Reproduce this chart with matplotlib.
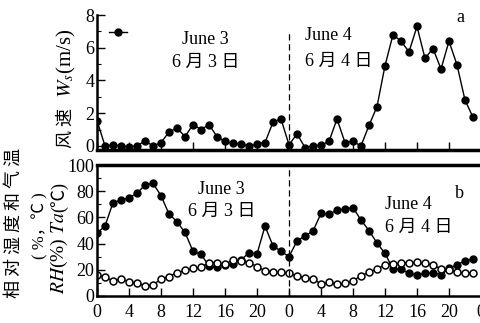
import matplotlib
matplotlib.use("Agg")
import matplotlib.pyplot as plt
from matplotlib.ticker import MultipleLocator

plt.rcParams['font.family'] = ['Liberation Serif', 'Noto Sans CJK SC', 'DejaVu Sans']
plt.rcParams['mathtext.fontset'] = 'stix'

hours = list(range(48))
wind_speed = [1.55, 0.0, 0.05, 0.0, -0.05, 0.0, 0.3, 0.0, 0.2, 0.85, 1.1, 0.57,
              1.3, 1.0, 1.3, 0.57, 0.27, 0.15, 0.12, 0.0, 0.12, 0.2, 1.45, 1.65,
              0.06, 0.74, -0.1, 0.0, 0.05, 0.27, 1.65, 0.2, 0.27, 0.0, 1.25, 2.4,
              4.9, 6.8, 6.4, 5.75, 7.3, 5.35, 5.95, 4.7, 6.4, 4.95, 2.8, 1.75]
rh = [48, 53.4, 71.2, 73.3, 75, 78.4, 84.7, 86, 76.6, 62.6, 56.7, 48.5,
      34.2, 31.8, 23, 21.9, 23.7, 24.2, 27.5, 33, 32, 53.4, 38.2, 34.2,
      30, 42, 45.8, 49.6, 63, 62.4, 65.6, 66.4, 67.4, 58, 49.9, 40.5,
      32.5, 20.7, 20.4, 17.3, 16, 17.3, 17.8, 16, 21, 23.7, 27, 28]
ta = [16, 14.3, 11.7, 13, 11, 9.7, 7.9, 8.4, 13, 14.8, 17.8, 19.5,
      21, 22, 25.5, 25.5, 24.4, 27.5, 27, 25.4, 22.4, 19.3, 18.6, 18,
      17.3, 15.3, 14, 13, 9.2, 10.4, 8.9, 9.7, 11.5, 15.5, 18, 20.7,
      23.7, 24.4, 25, 25.4, 25.7, 25, 23.7, 20.6, 19.8, 18, 17.8, 17.8]
xticks = list(range(0, 49, 4))
xticklabels = ['0', '4', '8', '12', '16', '20', '0', '4', '8', '12', '16', '20', '0']

fig = plt.figure(figsize=(4.81, 3.23), dpi=100)
W, H = 481, 323
axa = fig.add_axes([97 / W, 1 - 150 / H, 1 - 97 / W, 135 / H])
axb = fig.add_axes([97 / W, 1 - 296 / H, 1 - 97 / W, 131 / H])

fs = 13
# panel a
axa.plot(hours, wind_speed, '-o', color='black', lw=1.0, ms=5, label=' ')
axa.set_xlim(0, 48)
axa.set_ylim(-0.25, 8)
axa.set_yticks([0, 2, 4, 6, 8])
axa.yaxis.set_minor_locator(MultipleLocator(1))
axa.set_xticks(xticks)
axa.set_xticklabels([])
axa.spines['top'].set_visible(False)
axa.spines['right'].set_visible(False)
axa.spines['bottom'].set_linewidth(2.5)
axa.spines['left'].set_linewidth(1.8)
axa.tick_params(direction='in', length=6, width=1, labelsize=fs, pad=2)
axa.tick_params(which='minor', direction='in', length=3, width=0.8)
axa.axvline(24, ymax=0.89, color='black', lw=0.9, ls=(0, (5, 3)))
axa.text(13.6, 0.735, 'June 3\n6 月 3 日', transform=axa.get_xaxis_transform(),
         ha='center', va='center', fontsize=fs, linespacing=1.5)
axa.text(26.0, 0.755, 'June 4\n6 月 4 日', transform=axa.get_xaxis_transform(),
         ha='left', va='center', fontsize=fs, linespacing=1.7)
axa.text(0.945, 0.985, 'a', transform=axa.transAxes, ha='center', va='center', fontsize=fs)
axa.legend(loc='center left', bbox_to_anchor=(0.03, 0.86), frameon=False,
           handlelength=1.0, handletextpad=0.0, borderaxespad=0.0, borderpad=0.0,
           fontsize=fs)

# panel b
axb.plot(hours, rh, '-o', color='black', lw=1.0, ms=5)
axb.plot(hours, ta, '-o', color='black', lw=1.0, ms=5, mfc='white', mew=1.1)
axb.set_xlim(0, 48)
axb.set_ylim(0, 100)
axb.set_yticks([0, 20, 40, 60, 80, 100])
axb.yaxis.set_minor_locator(MultipleLocator(10))
axb.set_xticks(xticks)
axb.set_xticklabels(xticklabels)
axb.spines['right'].set_visible(False)
axb.spines['top'].set_linewidth(2.5)
axb.spines['bottom'].set_linewidth(1.8)
axb.spines['left'].set_linewidth(1.8)
axb.tick_params(direction='in', length=6, width=1, labelsize=fs, pad=2)
axb.tick_params(axis='x', pad=6)
axb.tick_params(which='minor', direction='in', length=3, width=0.8)
axb.axvline(24, color='black', lw=0.9, ls=(0, (5, 3)))
axb.text(15.6, 0.73, 'June 3\n6 月 3 日', transform=axb.get_xaxis_transform(),
         ha='center', va='center', fontsize=fs, linespacing=1.4)
axb.text(36.0, 0.61, 'June 4\n6 月 4 日', transform=axb.get_xaxis_transform(),
         ha='left', va='center', fontsize=fs, linespacing=1.5)
axb.text(0.945, 0.78, 'b', transform=axb.transAxes, ha='center', va='center', fontsize=fs)

# y labels (pieces stacked bottom to top)
t1 = fig.text(66 / W, 1 - 148 / H, '风 速', rotation=90, ha='center', va='bottom',
              fontsize=13, family=['Noto Sans CJK SC'])
axa.annotate('  $W_s$(m/s)', xy=(0.5, 1.0), xycoords=t1, rotation=90, ha='center',
             va='bottom', fontsize=15, annotation_clip=False)
fig.text(14 / W, 1 - 223 / H, '相 对 湿 度 和 气 温', rotation=90, ha='center', va='center',
         fontsize=13, family=['Noto Sans CJK SC'])
fig.text(40 / W, 1 - 226 / H, '( %，℃ )', rotation=90, ha='center', va='center', fontsize=12)
t3 = fig.text(59 / W, 1 - 294 / H, '$RH$(%) $Ta$', rotation=90, ha='center', va='bottom',
              fontsize=14)
axb.annotate('(℃)', xy=(0.5, 1.0), xycoords=t3, rotation=90, ha='center',
             va='bottom', fontsize=13, annotation_clip=False)

fig.savefig('out.png', dpi=100)
